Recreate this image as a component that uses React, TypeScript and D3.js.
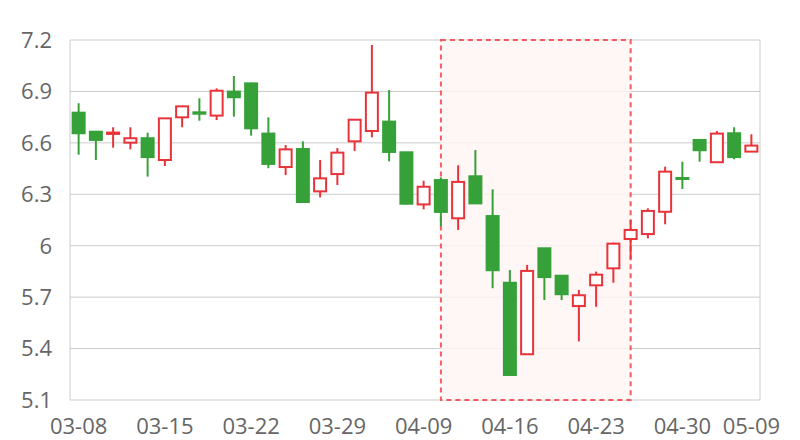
import React from "react";
import * as d3 from "d3";

const dates = [
  "03-08","03-11","03-12","03-13","03-14","03-15","03-18","03-19","03-20","03-21",
  "03-22","03-25","03-26","03-27","03-28","03-29","04-01","04-02","04-03","04-08",
  "04-09","04-10","04-11","04-12","04-15","04-16","04-17","04-18","04-19","04-22",
  "04-23","04-24","04-25","04-26","04-29","04-30","05-06","05-07","05-08","05-09",
];
const openVals = [
  6.776,6.665,6.652,6.601,6.627,6.500,6.749,6.778,6.759,6.899,
  6.947,6.654,6.459,6.564,6.317,6.418,6.609,6.669,6.724,6.545,
  6.241,6.383,6.160,6.405,6.173,5.784,5.367,5.985,5.825,5.648,
  5.769,5.868,6.039,6.068,6.198,6.395,6.617,6.487,6.656,6.549,
];
const closeVals = [
  6.656,6.617,6.660,6.627,6.517,6.743,6.813,6.770,6.904,6.866,
  6.685,6.477,6.562,6.255,6.393,6.543,6.735,6.893,6.547,6.245,
  6.344,6.197,6.372,6.247,5.857,5.246,5.853,5.817,5.717,5.711,
  5.831,6.012,6.092,6.203,6.432,6.390,6.557,6.654,6.517,6.584,
];
const highVals = [
  6.831,6.665,6.691,6.691,6.659,6.743,6.813,6.860,6.918,6.990,
  6.951,6.749,6.587,6.609,6.500,6.570,6.735,7.171,6.908,6.545,
  6.379,6.399,6.469,6.558,6.329,5.858,5.888,5.985,5.825,5.742,
  5.849,6.018,6.150,6.218,6.461,6.490,6.621,6.669,6.691,6.650,
];
const lowVals = [
  6.531,6.500,6.572,6.562,6.403,6.465,6.691,6.729,6.733,6.753,
  6.642,6.452,6.412,6.255,6.282,6.354,6.553,6.632,6.492,6.240,
  6.212,6.113,6.092,6.245,5.752,5.246,5.367,5.683,5.683,5.442,
  5.644,5.784,5.921,6.043,6.125,6.331,6.490,6.487,6.504,6.549,
];
const yTicks = [5.1, 5.4, 5.7, 6, 6.3, 6.6, 6.9, 7.2];
const xLabelDates = ["03-08","03-15","03-22","03-29","04-09","04-16","04-23","04-30","05-09"];
const areaStart = "04-10";
const areaEnd = "04-25";

const W = 800, H = 440;
const M = { left: 70, right: 40, top: 40, bottom: 40 };
const UP = "#e8333a";
const DOWN = "#36a139";
const FONT = "'Open Sans', 'Noto Sans', sans-serif";

export default function App() {
  const x = d3.scaleBand<string>().domain(dates).range([M.left, W - M.right]);
  const y = d3.scaleLinear().domain([5.1, 7.2]).range([H - M.bottom, M.top]);
  const bw = 12;
  const cx = (d: string) => (x(d) as number) + x.bandwidth() / 2;
  const ax0 = cx(areaStart), ax1 = cx(areaEnd);

  return (
    <svg width={W} height={H} style={{ position: "absolute", left: 0, top: 0 }}>
      <rect x={0} y={0} width={W} height={H} fill="#fff" />
      {yTicks.map((t) => (
        <line key={t} x1={M.left} x2={W - M.right} y1={y(t)} y2={y(t)} stroke="#cccccc" strokeWidth={1} />
      ))}
      <line x1={M.left} x2={M.left} y1={M.top} y2={H - M.bottom} stroke="#cccccc" />
      <line x1={W - M.right} x2={W - M.right} y1={M.top} y2={H - M.bottom} stroke="#cccccc" />
      <rect x={ax0} y={y(7.2)} width={ax1 - ax0} height={y(5.1) - y(7.2)} fill="#fff4f4" fillOpacity={0.8}
        stroke="#ef4b50" strokeOpacity={0.9} strokeWidth={2} strokeDasharray="5,4" />
      {dates.map((d, i) => {
        const o = openVals[i], c = closeVals[i], h = highVals[i], l = lowVals[i];
        const up = c >= o;
        const col = up ? UP : DOWN;
        const top = y(Math.max(o, c)), bot = y(Math.min(o, c));
        const xc = cx(d);
        return (
          <g key={d}>
            <line x1={xc} x2={xc} y1={y(h)} y2={y(l)} stroke={col} strokeWidth={2} />
            <rect x={xc - bw / 2} y={top} width={bw} height={Math.max(bot - top, 1)}
              fill={up ? "#fff" : col} stroke={col} strokeWidth={2} />
          </g>
        );
      })}
      {yTicks.map((t) => (
        <text key={t} x={52} y={y(t)} dy="0.36em" textAnchor="end" fontFamily={FONT} fontSize={22} fill="#666">
          {d3.format("")(+t.toFixed(1))}
        </text>
      ))}
      {xLabelDates.map((d) => (
        <text key={d} x={cx(d)} y={434} textAnchor="middle" fontFamily={FONT} fontSize={22} fill="#666">
          {d}
        </text>
      ))}
    </svg>
  );
}
